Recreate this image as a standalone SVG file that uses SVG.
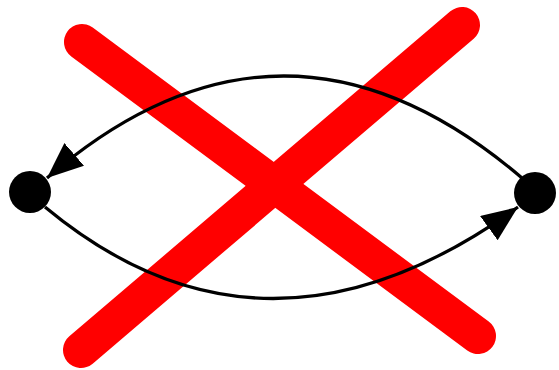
<svg xmlns="http://www.w3.org/2000/svg" width="559" height="370" viewBox="0 0 559 370">
<style>
.x{stroke:#ff0000;stroke-width:36;stroke-linecap:round;fill:none}
.e{stroke:#000;stroke-width:3.2;fill:none}
.n{fill:#000}
</style>
<defs>
<marker id="arr" viewBox="0 0 36 30" refX="36" refY="15" markerWidth="36" markerHeight="30" markerUnits="userSpaceOnUse" orient="auto">
<path d="M0,0 L36,15 L0,30 Z" fill="#000"/>
</marker>
</defs>
<g id="cross">
<line class="x" x1="82" y1="42" x2="478" y2="336"/>
<line class="x" x1="462" y1="25" x2="81" y2="350"/>
</g>
<g id="connectors">
<path class="e" d="M522,178 Q283,-26 47,178" marker-end="url(#arr)"/>
<path class="e" d="M45,207 Q265,390 518,207" marker-end="url(#arr)"/>
</g>
<g id="nodeA"><circle class="n" cx="30" cy="192" r="21"/></g>
<g id="nodeB"><circle class="n" cx="535" cy="193" r="21"/></g>
</svg>
